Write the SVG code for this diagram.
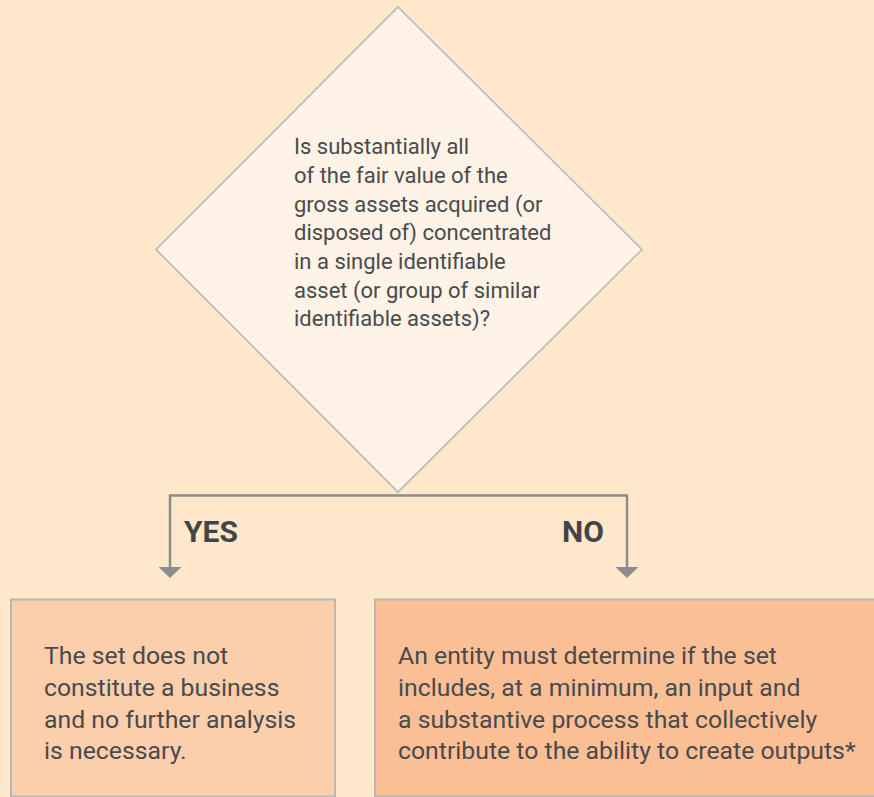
<svg xmlns="http://www.w3.org/2000/svg" width="874" height="797" viewBox="0 0 874 797">
  <defs>
    <style>
      .txt { font-family: Roboto, "Noto Sans", "DejaVu Sans", sans-serif; fill: #4a4a4c; }
      .q { font-size: 22px; }
      .box-txt { font-size: 24.8px; }
      .lbl { font-family: Roboto, "Noto Sans", "DejaVu Sans", sans-serif; font-weight: bold; font-size: 30px; fill: #444446; }
      .edge { stroke: #8c8c8c; stroke-width: 2.5; fill: none; }
      .frame { stroke: #b8b8b8; stroke-width: 2; }
    </style>
    <!-- wide, short arrowhead: 11px long, 23px across -->
    <marker id="arrow" viewBox="0 0 11 23" refX="1" refY="11.5" markerWidth="11" markerHeight="23" markerUnits="userSpaceOnUse" orient="auto">
      <path d="M0,0 L11,11.5 L0,23 Z" fill="#8c8c8c"/>
    </marker>
  </defs>

  <!-- page background -->
  <rect x="0" y="0" width="874" height="797" fill="#fde8cc"/>

  <!-- decision diamond -->
  <g id="decision">
    <polygon points="398,7 642,249.5 398,492 156,249.5" fill="#fef3e6" stroke="#b8b8b8" stroke-width="1.6"/>
    <text class="txt q" x="294">
      <tspan x="294" y="154">Is substantially all</tspan>
      <tspan x="294" y="183">of the fair value of the</tspan>
      <tspan x="294" y="211.5">gross assets acquired (or</tspan>
      <tspan x="294" y="240">disposed of) concentrated</tspan>
      <tspan x="294" y="269">in a single identifiable</tspan>
      <tspan x="294" y="297.5">asset (or group of similar</tspan>
      <tspan x="294" y="326">identifiable assets)?</tspan>
    </text>
  </g>

  <!-- branches out of the decision -->
  <g id="connectors">
    <polyline class="edge" points="398,495.5 170,495.5 170,568" marker-end="url(#arrow)"/>
    <polyline class="edge" points="398,495.5 627,495.5 627,568" marker-end="url(#arrow)"/>
    <text class="lbl" x="184" y="542">YES</text>
    <text class="lbl" x="562" y="542">NO</text>
  </g>

  <!-- outcome: not a business -->
  <g id="not-business">
    <rect class="frame" x="11" y="599.5" width="324" height="197" fill="#fccfac"/>
    <text class="txt box-txt">
      <tspan x="44" y="664">The set does not</tspan>
      <tspan x="44" y="696">constitute a business</tspan>
      <tspan x="44" y="727.5">and no further analysis</tspan>
      <tspan x="44" y="759">is necessary.</tspan>
    </text>
  </g>

  <!-- outcome: further assessment -->
  <g id="further-assessment">
    <rect class="frame" x="375" y="599.5" width="510" height="197" fill="#fbbf96"/>
    <text class="txt box-txt">
      <tspan x="398" y="664">An entity must determine if the set</tspan>
      <tspan x="398" y="696">includes, at a minimum, an input and</tspan>
      <tspan x="398" y="727.5">a substantive process that collectively</tspan>
      <tspan x="398" y="759">contribute to the ability to create outputs*</tspan>
    </text>
  </g>
</svg>
